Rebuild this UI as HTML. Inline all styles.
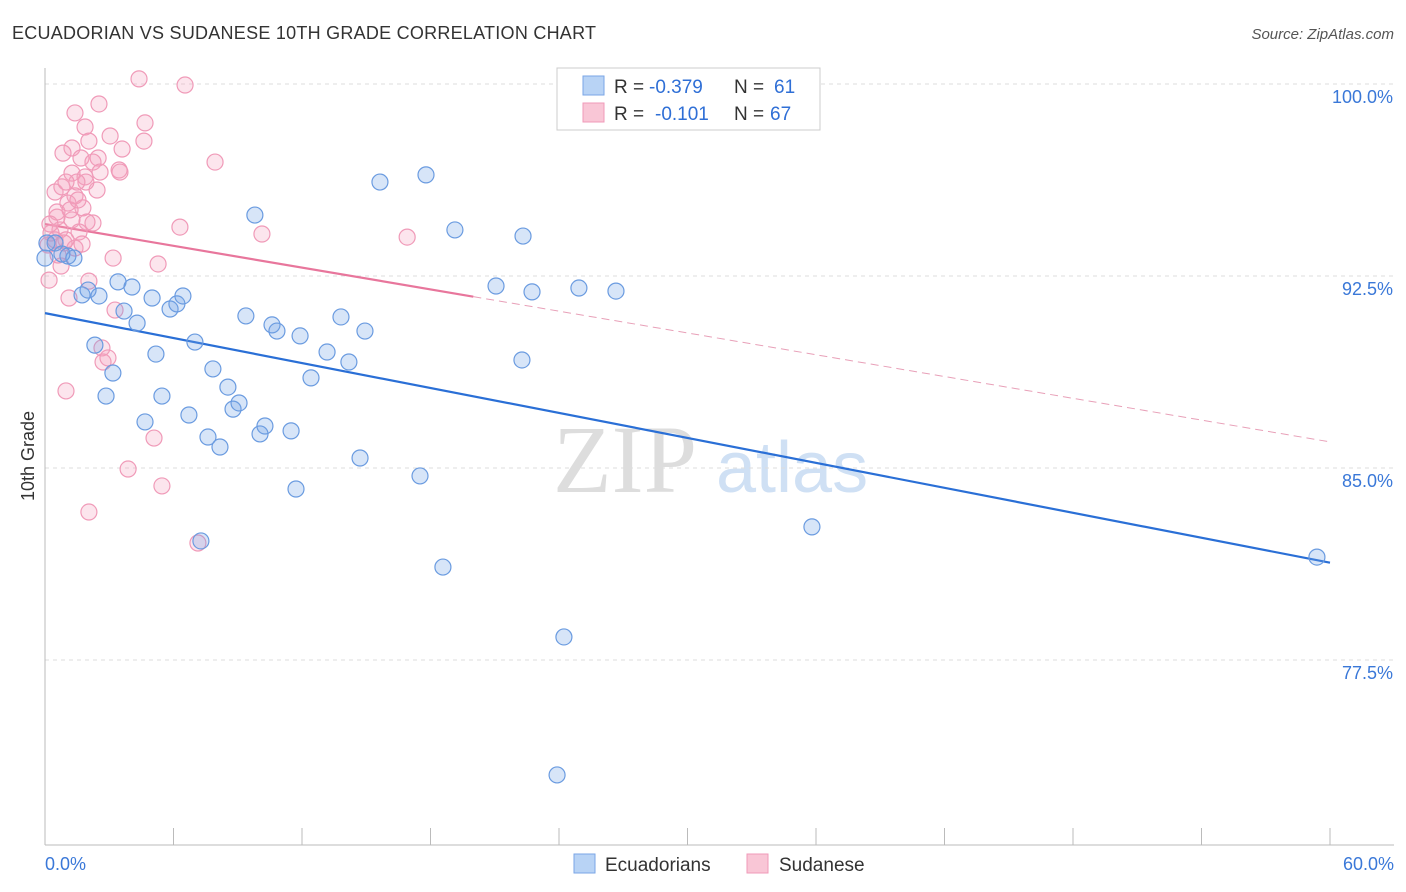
<!DOCTYPE html>
<html><head><meta charset="utf-8"><style>
body{margin:0;background:#fff;font-family:"Liberation Sans",sans-serif;}
</style></head><body>
<svg id="chart" width="1406" height="892" xmlns="http://www.w3.org/2000/svg" style="display:block">
<text x="12" y="39" font-size="18" fill="#333" textLength="584">ECUADORIAN VS SUDANESE 10TH GRADE CORRELATION CHART</text>
<text x="1394" y="39" font-size="15" fill="#555" text-anchor="end" font-style="italic">Source: ZipAtlas.com</text>
<g>
<text x="553" y="492" font-size="96" fill="#ddd" font-family="Liberation Serif,serif">ZIP</text>
<text x="716" y="492" font-size="72" fill="#cfe0f4">atlas</text>
</g>
<g id="grid"></g>
<g id="axes"></g>
<g id="lines"></g>
<g id="pts"></g>
<g>
<rect x="557" y="68" width="263" height="62" fill="#fff" stroke="#ccc"/>
<rect x="583" y="76" width="21" height="19" fill="#b8d3f5" stroke="#7aa6e6"/>
<rect x="583" y="103" width="21" height="19" fill="#f9c6d6" stroke="#f09ab8"/>
<text x="614" y="93" font-size="19" fill="#333">R =</text>
<text x="649" y="93" font-size="19" fill="#2f6fd6">-0.379</text>
<text x="734" y="93" font-size="19" fill="#333">N =</text>
<text x="774" y="93" font-size="19" fill="#2f6fd6">61</text>
<text x="614" y="120" font-size="19" fill="#333">R =</text>
<text x="655" y="120" font-size="19" fill="#2f6fd6">-0.101</text>
<text x="734" y="120" font-size="19" fill="#333">N =</text>
<text x="770" y="120" font-size="19" fill="#2f6fd6">67</text>
</g>
<text transform="translate(34,456) rotate(-90)" font-size="18" fill="#333" text-anchor="middle">10th Grade</text>
<g>
<rect x="574" y="854" width="21" height="19" fill="#b8d3f5" stroke="#7aa6e6"/>
<text x="605" y="871" font-size="19" fill="#333">Ecuadorians</text>
<rect x="747" y="854" width="21" height="19" fill="#f9c6d6" stroke="#f09ab8"/>
<text x="779" y="871" font-size="19" fill="#333">Sudanese</text>
</g>
</svg>
<script>
const blueX=[0,0.09,0.47,1.07,1.35,0.79,3.41,4.06,1.73,2.52,2.01,3.69,4.30,5.00,5.84,6.16,6.44,2.33,3.17,2.85,5.18,7.00,5.46,4.67,6.72,7.84,8.54,8.78,9.06,7.61,8.17,9.38,10.60,10.83,11.91,13.82,14.94,13.17,14.19,12.42,10.27,10.04,11.49,14.71,9.80,15.64,17.79,19.14,22.32,21.06,22.74,24.93,26.66,22.27,17.51,11.72,7.28,18.58,24.23,23.91,35.81,59.39];
const blueY=[93.20,93.79,93.79,93.28,93.20,93.36,92.27,92.07,91.76,91.72,91.95,91.13,90.66,91.64,91.21,91.41,91.72,89.80,88.71,87.81,89.45,89.92,87.81,86.80,87.07,88.87,88.16,87.30,87.54,86.21,85.82,90.94,90.59,90.35,90.16,90.90,90.35,89.53,89.14,88.52,86.64,86.33,86.45,85.39,94.88,96.17,96.45,94.30,94.06,92.11,91.88,92.03,91.91,89.22,84.69,84.18,82.15,81.13,78.40,73.01,82.70,81.52];
const pinkX=[4.39,6.54,2.52,1.40,4.67,1.87,3.04,4.62,2.05,1.26,0.84,3.60,2.48,1.68,2.24,7.94,3.46,1.26,1.87,0.47,0.79,2.43,1.91,1.40,1.07,1.77,0.56,2.24,1.26,1.96,6.30,10.13,16.91,0.28,0.70,1.59,0.98,0.14,1.40,3.18,5.28,0.75,0.19,2.05,1.12,3.27,2.66,2.71,2.94,0.98,5.09,3.88,5.46,2.05,7.14,0.56,0.89,0.23,1.49,2.57,3.50,0.47,1.17,1.73,0.98,1.54,0.61];
const pinkY=[100.20,99.96,99.22,98.87,98.48,98.32,97.97,97.77,97.77,97.50,97.30,97.46,97.11,97.11,96.95,96.95,96.64,96.52,96.37,95.78,95.98,95.86,96.17,95.63,95.35,95.16,94.80,94.57,94.69,94.61,94.41,94.14,94.02,94.18,94.30,94.22,93.91,93.71,93.59,93.20,92.97,92.89,92.34,92.30,91.64,91.17,89.69,89.14,89.30,88.01,86.17,84.96,84.30,83.28,82.07,95.00,93.79,94.53,96.17,96.56,96.56,93.91,95.08,93.75,96.17,95.47,93.32];
const blueTrend=[91.05,81.3];
const pinkTrend=[94.53,86.02];
const pinkSolidEnd=20;
const yTicks=[100,92.5,85,77.5];
const yTickLabels=["100.0%","92.5%","85.0%","77.5%"];
const xEndLabels=["0.0%","60.0%"];
const NS="http://www.w3.org/2000/svg";
const sx=v=>45+v/60*1285;
const sy=v=>84+(100-v)*25.6;
function mk(tag,attrs,parent){const e=document.createElementNS(NS,tag);for(const k in attrs)e.setAttribute(k,attrs[k]);document.getElementById(parent).appendChild(e);return e;}
yTicks.forEach((t,i)=>{
 const g=mk('line',{x1:45,x2:1394,y1:sy(t),y2:sy(t),stroke:'#ddd','stroke-dasharray':'4,4'},'grid');
 
 
 const l=mk('text',{x:1393,y:sy(t)+19,'font-size':18,fill:'#3a78d8','text-anchor':'end'},'grid');
 l.textContent=yTickLabels[i];
 
 
});
const ax=mk('line',{x1:45,x2:45,y1:68,y2:845,stroke:'#bbb'},'axes');


const bx=mk('line',{x1:45,x2:1394,y1:845,y2:845,stroke:'#bbb'},'axes');


for(let i=0;i<=10;i++){
 const t=mk('line',{x1:sx(i*6),x2:sx(i*6),y1:828,y2:845,stroke:'#bbb'},'axes');
 
 
}
[[0,'start',45],[60,'end',1394]].forEach((d,i)=>{
 const l=mk('text',{x:d[2],y:870,'font-size':18,fill:'#3a78d8','text-anchor':d[1]},'axes');
 l.textContent=xEndLabels[i];
 
 
});
const pv=x=>pinkTrend[0]+(pinkTrend[1]-pinkTrend[0])*x/60;
let t1=mk('line',{x1:sx(0),y1:sy(blueTrend[0]),x2:sx(60),y2:sy(blueTrend[1]),stroke:'#2a6fd6','stroke-width':2.2},'lines');


let t2=mk('line',{x1:sx(0),y1:sy(pv(0)),x2:sx(pinkSolidEnd),y2:sy(pv(pinkSolidEnd)),stroke:'#e8769c','stroke-width':2.2},'lines');


let t3=mk('line',{x1:sx(pinkSolidEnd),y1:sy(pv(pinkSolidEnd)),x2:sx(60),y2:sy(pv(60)),stroke:'#e8a0b8','stroke-width':1,'stroke-dasharray':'8,5'},'lines');


pinkX.forEach((x,i)=>{
 const c=mk('circle',{cx:sx(x),cy:sy(pinkY[i]),r:8,fill:'rgba(244,160,190,0.28)',stroke:'#f09ab8','stroke-width':1.2},'pts');
 
 
});
blueX.forEach((x,i)=>{
 const c=mk('circle',{cx:sx(x),cy:sy(blueY[i]),r:8,fill:'rgba(110,160,230,0.28)',stroke:'#6a9be0','stroke-width':1.2},'pts');
 
 
});
</script>
</body></html>
